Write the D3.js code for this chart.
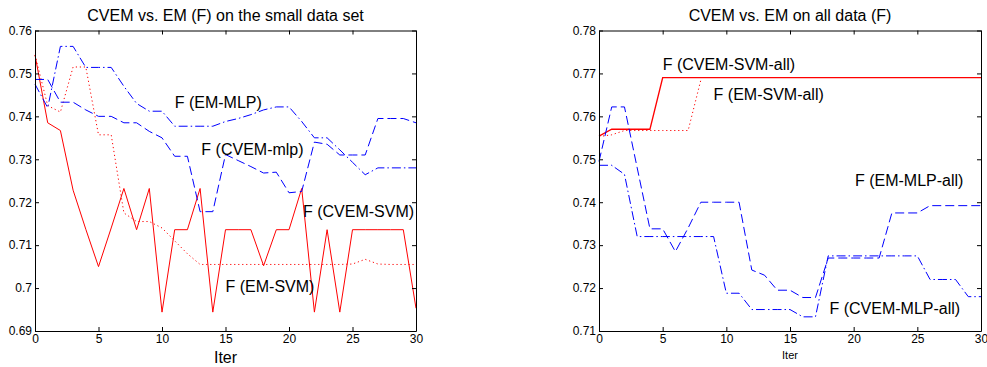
<!DOCTYPE html>
<html>
<head>
<meta charset="utf-8">
<script src="https://cdn.jsdelivr.net/npm/d3@7"></script>
<style>
  body { margin: 0; background: #fff; }
  text { font-family: "Liberation Sans", Arial, sans-serif; fill: #000; }
</style>
</head>
<body>
<svg id="vis" width="987" height="367"></svg>
<script>
// iterations (x) shared by every series
const iters = [0,1,2,3,4,5,6,7,8,9,10,11,12,13,14,15,16,17,18,19,20,21,22,23,24,25,26,27,28,29,30];
const xTicks = [0,5,10,15,20,25,30];

// --- left panel: small data set ---
const leftYTicks = [0.69,0.70,0.71,0.72,0.73,0.74,0.75,0.76];
const cvemSvm = [0.7543,0.7385,0.7367,0.7228,0.7137,0.7050,0.7140,0.7232,0.7136,0.7232,0.6944,0.7136,0.7136,0.7232,0.6944,0.7136,0.7136,0.7136,0.7052,0.7136,0.7136,0.7232,0.6944,0.7136,0.6944,0.7136,0.7136,0.7136,0.7136,0.7136,0.6953];
const emSvm = [0.7543,0.7425,0.7410,0.7515,0.7515,0.7357,0.7357,0.7175,0.7155,0.7155,0.7140,0.7110,0.7080,0.7055,0.7055,0.7055,0.7055,0.7055,0.7055,0.7055,0.7055,0.7055,0.7055,0.7055,0.7055,0.7056,0.7067,0.7056,0.7055,0.7055,0.7055];
const cvemMlp = [0.7486,0.7486,0.7433,0.7433,0.7415,0.7400,0.7400,0.7385,0.7385,0.7365,0.7350,0.7307,0.7307,0.7178,0.7178,0.7311,0.7297,0.7283,0.7268,0.7270,0.7222,0.7225,0.7340,0.7335,0.7310,0.7310,0.7310,0.7395,0.7395,0.7395,0.7385];
const emMlp = [0.7475,0.7420,0.7563,0.7563,0.7514,0.7514,0.7514,0.7470,0.7430,0.7412,0.7412,0.7377,0.7377,0.7377,0.7377,0.7388,0.7395,0.7404,0.7415,0.7422,0.7422,0.7388,0.7350,0.7350,0.7322,0.7293,0.7264,0.7280,0.7280,0.7280,0.7280];
const leftLabels = ["F (EM-MLP)","F (CVEM-mlp)","F (CVEM-SVM)","F (EM-SVM)"];
const leftLabelAt = [[11.0,0.7419],[13.1,0.7310],[21.1,0.7166],[15.0,0.6990]];

// --- right panel: all data ---
const rightYTicks = [0.71,0.72,0.73,0.74,0.75,0.76,0.77,0.78];
const cvemSvmAll = [0.7554,0.7570,0.7570,0.7570,0.7570,0.7690,0.7690,0.7690,0.7690,0.7690,0.7690,0.7690,0.7690,0.7690,0.7690,0.7690,0.7690,0.7690,0.7690,0.7690,0.7690,0.7690,0.7690,0.7690,0.7690,0.7690,0.7690,0.7690,0.7690,0.7690,0.7690];
const emSvmAll = [0.7553,0.7557,0.7567,0.7567,0.7567,0.7567,0.7567,0.7567,0.7685];
const emMlpAll = [0.7495,0.7622,0.7622,0.7480,0.7338,0.7338,0.7285,0.7340,0.7400,0.7400,0.7400,0.7400,0.7242,0.7230,0.7195,0.7195,0.7178,0.7178,0.7270,0.7270,0.7270,0.7270,0.7270,0.7375,0.7375,0.7375,0.7392,0.7392,0.7392,0.7392,0.7392];
const cvemMlpAll = [0.7486,0.7486,0.7465,0.7320,0.7320,0.7320,0.7320,0.7320,0.7320,0.7320,0.7188,0.7188,0.7150,0.7150,0.7150,0.7150,0.7133,0.7133,0.7275,0.7275,0.7275,0.7275,0.7275,0.7275,0.7275,0.7275,0.7220,0.7220,0.7220,0.7180,0.7180];
const rightLabels = ["F (CVEM-SVM-all)","F (EM-SVM-all)","F (EM-MLP-all)","F (CVEM-MLP-all)"];
const rightLabelAt = [[5.0,0.7708],[9.0,0.7638],[20.1,0.7438],[18.1,0.7140]];

const RED = "#ff0000", BLUE = "#0000ff";
const DASH = "9,4", DASHDOT = "9,3,1.5,3", DOT = "1.2,2.8";

const svg = d3.select("#vis");
const fmt = d => String(+d.toFixed(2));

drawPanel = (cfg) => {
  const x = d3.scaleLinear().domain([0,30]).range(cfg.xRange);
  const y = d3.scaleLinear().domain(cfg.yDomain).range([331, 30.5]);
  const g = svg.append("g");

  // series
  const line = d3.line().x((d,i) => x(iters[i])).y(d => y(d));
  cfg.series.forEach(s => {
    g.append("path")
      .attr("d", line(s.values))
      .attr("fill", "none")
      .attr("stroke", s.color)
      .attr("stroke-width", s.width || 1)
      .attr("stroke-dasharray", s.dash);
  });

  // box with inward ticks (matlab style)
  const ax = g.append("g").attr("class", "axes");
  ax.append("g").attr("transform", `translate(0,${y.range()[0]})`)
    .call(d3.axisBottom(x).tickValues(xTicks).tickSizeInner(-4).tickSizeOuter(0).tickPadding(3.5).tickFormat(d3.format("d")));
  ax.append("g").attr("transform", `translate(0,${y.range()[1]})`)
    .call(d3.axisTop(x).tickValues(xTicks).tickSizeInner(-4).tickSizeOuter(0).tickFormat(""));
  ax.append("g").attr("transform", `translate(${x.range()[0]},0)`)
    .call(d3.axisLeft(y).tickValues(cfg.yTicks).tickSizeInner(-4).tickSizeOuter(0).tickPadding(3).tickFormat(fmt));
  ax.append("g").attr("transform", `translate(${x.range()[1]},0)`)
    .call(d3.axisRight(y).tickValues(cfg.yTicks).tickSizeInner(-4).tickSizeOuter(0).tickFormat(""));
  ax.selectAll("path, line").attr("stroke", "#000").attr("stroke-width", 1);
  ax.selectAll("text").style("font-family", "'Liberation Sans', Arial, sans-serif").style("font-size", "12px").attr("fill", "#000");

  // curve labels
  cfg.labels.forEach((t, i) => {
    g.append("text")
      .attr("x", x(cfg.labelAt[i][0]))
      .attr("y", y(cfg.labelAt[i][1]))
      .style("font-size", "16px")
      .text(t);
  });

  // title + xlabel
  const cx = (x.range()[0] + x.range()[1]) / 2;
  g.append("text").attr("x", cx).attr("y", 21).attr("text-anchor", "middle")
    .style("font-size", "16px").text(cfg.title);
  g.append("text").attr("x", cx).attr("y", cfg.xlabelY).attr("text-anchor", "middle")
    .style("font-size", cfg.xlabelSize).text("Iter");
}

drawPanel({
  xRange: [35, 416], yDomain: [0.69, 0.76], yTicks: leftYTicks,
  title: "CVEM vs. EM (F) on the small data set",
  xlabelSize: "16px", xlabelY: 363,
  labels: leftLabels, labelAt: leftLabelAt,
  series: [
    {values: emSvm, color: RED, dash: DOT},
    {values: cvemSvm, color: RED},
    {values: emMlp, color: BLUE, dash: DASHDOT},
    {values: cvemMlp, color: BLUE, dash: DASH}
  ]
});

drawPanel({
  xRange: [599, 981], yDomain: [0.71, 0.78], yTicks: rightYTicks,
  title: "CVEM vs. EM on all data (F)",
  xlabelSize: "11px", xlabelY: 359,
  labels: rightLabels, labelAt: rightLabelAt,
  series: [
    {values: emSvmAll, color: RED, dash: DOT},
    {values: cvemSvmAll, color: RED, width: 1.3},
    {values: cvemMlpAll, color: BLUE, dash: DASHDOT},
    {values: emMlpAll, color: BLUE, dash: DASH}
  ]
});
</script>
</body>
</html>
